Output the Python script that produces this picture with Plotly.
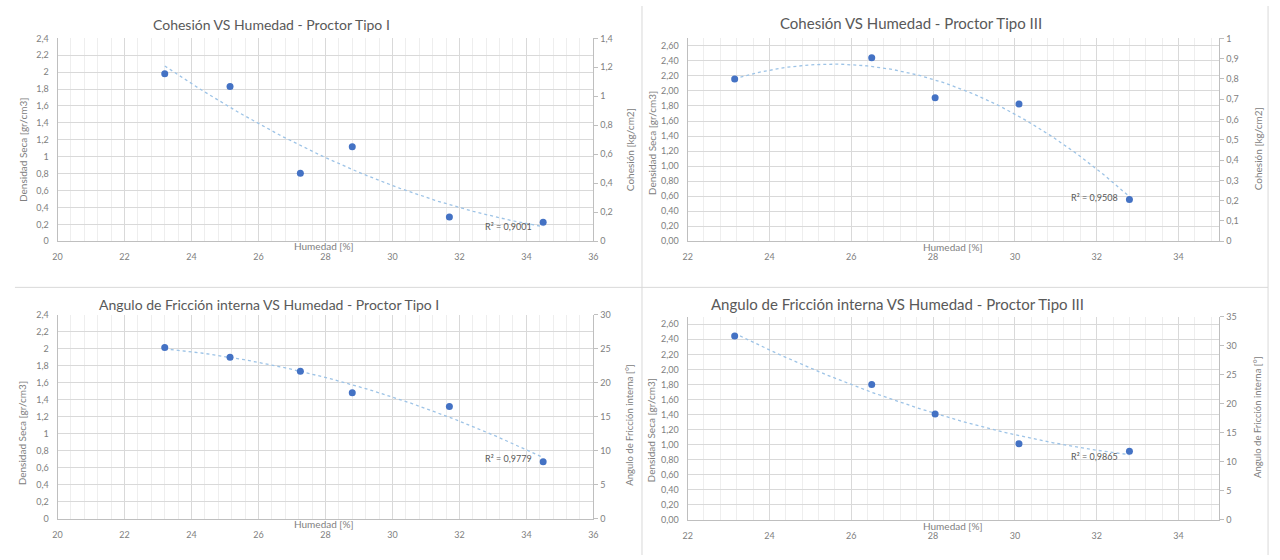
import numpy as np
import plotly.graph_objects as go

# ---- data ----
humedad_t1 = [23.2, 25.15, 27.25, 28.8, 31.7, 34.5]
cohesion_t1 = [1.155, 1.067, 0.47, 0.652, 0.167, 0.131]
friccion_t1 = [25.2, 23.75, 21.7, 18.55, 16.5, 8.4]

humedad_t3 = [23.15, 26.5, 28.05, 30.1, 32.8]
cohesion_t3 = [0.80, 0.905, 0.707, 0.676, 0.206]
friccion_t3 = [31.7, 23.3, 18.25, 13.1, 11.8]

titles = ["Cohesión VS Humedad - Proctor Tipo I",
          "Cohesión VS Humedad - Proctor Tipo III",
          "Angulo de Fricción interna VS Humedad - Proctor Tipo I",
          "Angulo de Fricción interna VS Humedad - Proctor Tipo III"]
r2_labels = ["R² = 0,9001", "R² = 0,9508", "R² = 0,9779", "R² = 0,9865"]
left_title = "Densidad Seca [gr/cm3]"
right_titles = ["Cohesión [kg/cm2]", "Cohesión [kg/cm2]",
                "Angulo de Fricción interna [°]", "Angulo de Fricción interna [°]"]
x_title = "Humedad [%]"

W, H = 1280, 560
FONT = "Lato"
TICK_COLOR = "#808080"
TEXT_COLOR = "#595959"
GRID = "#d9d9d9"
MINOR = "#eeeeee"
LINE = "#bfbfbf"
DOT = "#4472c4"
TREND = "#9dc3e6"

def px_x(p):
    return p / W

def px_y(p):
    return 1 - p / H

fig = go.Figure()

panels = [
    dict(x=humedad_t1, y=cohesion_t1, xr=[20, 36], xpx=(53, 593), ypx=(33, 240),
         lr=[0, 2.4], lfmt="", rr=[0, 1.4], rd=0.2),
    dict(x=humedad_t3, y=cohesion_t3, xr=[22, 35], xpx=(688, 1224), ypx=(33, 240),
         lr=[0, 2.7], lfmt=".2f", rr=[0, 1.0], rd=0.1),
    dict(x=humedad_t1, y=friccion_t1, xr=[20, 36], xpx=(53, 593), ypx=(315, 523),
         lr=[0, 2.4], lfmt="", rr=[0, 30], rd=5),
    dict(x=humedad_t3, y=friccion_t3, xr=[22, 35], xpx=(688, 1224), ypx=(317, 524),
         lr=[0, 2.7], lfmt=".2f", rr=[0, 35], rd=5),
]

layout_axes = {}
for i, p in enumerate(panels):
    xi = i + 1
    yl = 2 * i + 1
    yr = 2 * i + 2
    xname = "xaxis" if xi == 1 else f"xaxis{xi}"
    ylname = "yaxis" if yl == 1 else f"yaxis{yl}"
    yrname = f"yaxis{yr}"
    xref = "x" if xi == 1 else f"x{xi}"
    ylref = "y" if yl == 1 else f"y{yl}"
    yrref = f"y{yr}"
    ydom = [px_y(p["ypx"][1]), px_y(p["ypx"][0])]

    layout_axes[xname] = dict(
        domain=[px_x(p["xpx"][0]), px_x(p["xpx"][1])], anchor=ylref,
        range=p["xr"], tick0=p["xr"][0], dtick=2, showgrid=True, gridcolor=GRID,
        gridwidth=1, minor=dict(tick0=p["xr"][0], dtick=0.4, showgrid=True,
                                gridcolor=MINOR, gridwidth=1),
        showline=True, linecolor=LINE, zeroline=False,
        ticks="outside", ticklen=7, tickcolor="rgba(0,0,0,0)",
        tickfont=dict(family=FONT, size=9, color=TICK_COLOR), fixedrange=True)
    layout_axes[ylname] = dict(
        domain=ydom, anchor=xref,
        range=p["lr"], tick0=0, dtick=0.2, tickformat=p["lfmt"],
        showgrid=True, gridcolor=GRID, showline=True, linecolor=LINE, zeroline=False,
        ticks="outside", ticklen=6, tickcolor="rgba(0,0,0,0)",
        tickfont=dict(family=FONT, size=9, color=TICK_COLOR), fixedrange=True)
    layout_axes[yrname] = dict(
        domain=ydom, overlaying=ylref, side="right", anchor=xref,
        range=p["rr"], tick0=0, dtick=p["rd"], showgrid=False, zeroline=False,
        showline=True, linecolor=LINE, ticks="outside", ticklen=4, tickcolor=LINE,
        tickfont=dict(family=FONT, size=9, color=TICK_COLOR), fixedrange=True)

    # empty trace so the left (density) axis is drawn
    fig.add_trace(go.Scatter(x=[], y=[], mode="markers", xaxis=xref, yaxis=ylref,
                             showlegend=False, hoverinfo="skip"))
    # trendline (2nd order polynomial fit, as in the spreadsheet)
    coef = np.polyfit(p["x"], p["y"], 2)
    xs = np.linspace(min(p["x"]), max(p["x"]), 120)
    fig.add_trace(go.Scatter(x=xs, y=np.polyval(coef, xs), mode="lines",
                             line=dict(color=TREND, width=1.3, dash="dot"),
                             xaxis=xref, yaxis=yrref, showlegend=False, hoverinfo="skip"))
    fig.add_trace(go.Scatter(x=p["x"], y=p["y"], mode="markers",
                             marker=dict(color=DOT, size=7),
                             xaxis=xref, yaxis=yrref, showlegend=False))

annotations = []

def txt(x, y, s, size, color=TEXT_COLOR, angle=0):
    annotations.append(dict(x=px_x(x), y=px_y(y), xref="paper", yref="paper",
                            text=s, showarrow=False, textangle=angle,
                            xanchor="center", yanchor="middle",
                            font=dict(family=FONT, size=size, color=color)))

# chart titles
txt(269, 19, titles[0], 14)
txt(913, 17, titles[1], 15)
txt(266, 304, titles[2], 14)
txt(900, 304, titles[3], 15)

# left axis titles
txt(18, 147, left_title, 10, TICK_COLOR, -90)
txt(652, 140, left_title, 10, TICK_COLOR, -90)
txt(18, 436, left_title, 10, TICK_COLOR, -90)
txt(652, 433, left_title, 10, TICK_COLOR, -90)

# right axis titles
txt(630, 147, right_titles[0], 10, TICK_COLOR, -90)
txt(1263, 146, right_titles[1], 10, TICK_COLOR, -90)
txt(630, 427, right_titles[2], 9.5, TICK_COLOR, -90)
txt(1263, 419, right_titles[3], 9.5, TICK_COLOR, -90)

# x axis titles
txt(322, 245, x_title, 10, TICK_COLOR)
txt(955, 246, x_title, 10, TICK_COLOR)
txt(322, 528, x_title, 10, TICK_COLOR)
txt(955, 530, x_title, 10, TICK_COLOR)

# R² labels
txt(507, 225, r2_labels[0], 9, TEXT_COLOR)
txt(1098, 195, r2_labels[1], 9, TEXT_COLOR)
txt(507, 462, r2_labels[2], 9, TEXT_COLOR)
txt(1098, 460, r2_labels[3], 9, TEXT_COLOR)

shapes = [
    dict(type="line", xref="paper", yref="paper", x0=px_x(10), x1=px_x(1273),
         y0=px_y(287), y1=px_y(287), line=dict(color=GRID, width=1)),
    dict(type="line", xref="paper", yref="paper", x0=px_x(642), x1=px_x(642),
         y0=0, y1=1, line=dict(color=GRID, width=1)),
    dict(type="line", xref="paper", yref="paper", x0=px_x(1273), x1=px_x(1273),
         y0=0, y1=1, line=dict(color=GRID, width=1)),
]

fig.update_layout(width=W, height=H, margin=dict(l=0, r=0, t=0, b=0),
                  paper_bgcolor="white", plot_bgcolor="white",
                  separators=",.", showlegend=False,
                  annotations=annotations, shapes=shapes,
                  font=dict(family=FONT), **layout_axes)

fig.write_html("out.html", config={"displayModeBar": False},
               post_script="document.body.style.margin='0';document.body.style.overflow='hidden';")
